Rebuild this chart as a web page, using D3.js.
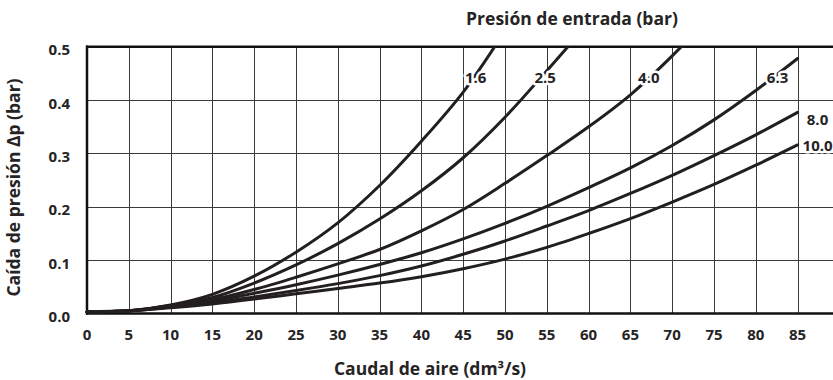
<!DOCTYPE html>
<html>
<head>
<meta charset="utf-8">
<script src="https://cdn.jsdelivr.net/npm/d3@7"></script>
<style>
  body { margin: 0; background: #fff; }
  svg { display: block; }
  text { font-family: "Open Sans", "Noto Sans", sans-serif; font-weight: 700; fill: #262324; }
</style>
</head>
<body>
<svg id="chart" width="833" height="380"></svg>
<script>
// Air flow (dm³/s) at which the pressure drop is read
const flows = [0, 5, 10, 15, 20, 25, 30, 35, 40, 45, 50, 55, 60, 65, 70, 75, 80, 85];

// Inlet pressure of each curve (bar)
const inletPressures = ["1.6", "2.5", "4.0", "6.3", "8.0", "10.0"];

// Pressure drop Δp (bar) for each inlet pressure, one value per flow step
const drop16  = [0.003, 0.005, 0.016, 0.036, 0.070, 0.115, 0.170, 0.240, 0.323, 0.415, 0.530];
const drop25  = [0.003, 0.005, 0.015, 0.030, 0.057, 0.091, 0.131, 0.177, 0.230, 0.292, 0.368, 0.455, 0.545];
const drop40  = [0.003, 0.005, 0.014, 0.026, 0.045, 0.068, 0.093, 0.120, 0.155, 0.195, 0.244, 0.296, 0.350, 0.410, 0.483, 0.565];
const drop63  = [0.003, 0.005, 0.013, 0.023, 0.038, 0.054, 0.072, 0.092, 0.114, 0.140, 0.169, 0.201, 0.236, 0.273, 0.315, 0.363, 0.418, 0.478];
const drop80  = [0.003, 0.005, 0.012, 0.020, 0.031, 0.043, 0.056, 0.071, 0.089, 0.111, 0.136, 0.164, 0.193, 0.225, 0.259, 0.296, 0.335, 0.377];
const drop100 = [0.003, 0.005, 0.011, 0.018, 0.027, 0.037, 0.047, 0.057, 0.069, 0.084, 0.102, 0.124, 0.150, 0.178, 0.209, 0.242, 0.278, 0.316];

const xTicks = [0, 5, 10, 15, 20, 25, 30, 35, 40, 45, 50, 55, 60, 65, 70, 75, 80, 85];
const yTicks = [0, 0.1, 0.2, 0.3, 0.4, 0.5];

const series = [drop16, drop25, drop40, drop63, drop80, drop100].map((vals, i) => ({
  name: inletPressures[i],
  points: vals.map((v, j) => ({ q: flows[j], v }))
}));

const W = 833, H = 380;
const plotLeft = 87, plotTop = 46.8, plotBottom = 313.5;
const svg = d3.select("#chart");

const x = d3.scaleLinear().domain([0, 90]).range([plotLeft, plotLeft + 90 * 8.36]);
const y = d3.scaleLinear().domain([0, 0.5]).range([plotBottom, plotTop]);

// grid
const grid = svg.append("g").attr("stroke", "#3a3a3a").attr("stroke-width", 1);
grid.selectAll("line.v").data(xTicks.filter(d => d > 0)).join("line")
  .attr("x1", d => Math.round(x(d)) + 0.5).attr("x2", d => Math.round(x(d)) + 0.5)
  .attr("y1", y(0.5)).attr("y2", y(0));
grid.selectAll("line.h").data(yTicks.filter(d => d > 0 && d < 0.5)).join("line")
  .attr("x1", plotLeft).attr("x2", W)
  .attr("y1", d => Math.round(y(d)) + 0.5).attr("y2", d => Math.round(y(d)) + 0.5);

// frame: left, top and bottom edges
const frame = svg.append("g").attr("stroke", "#111").attr("stroke-width", 2.5);
frame.append("line").attr("x1", plotLeft - 1).attr("x2", W).attr("y1", y(0.5)).attr("y2", y(0.5));
frame.append("line").attr("x1", plotLeft - 1).attr("x2", W).attr("y1", y(0)).attr("y2", y(0));
frame.append("line").attr("x1", plotLeft).attr("x2", plotLeft).attr("y1", y(0.5) - 1.2).attr("y2", y(0) + 1.2);

// curves, clipped to the plotting area
svg.append("clipPath").attr("id", "plot-clip").append("rect")
  .attr("x", plotLeft - 4).attr("y", y(0.5)).attr("width", W - plotLeft + 4).attr("height", y(0) - y(0.5) + 4);

const line = d3.line().x(d => x(d.q)).y(d => y(d.v)).curve(d3.curveCatmullRom.alpha(0.5));
svg.append("g").attr("clip-path", "url(#plot-clip)")
  .selectAll("path").data(series).join("path")
  .attr("d", d => line(d.points))
  .attr("fill", "none").attr("stroke", "#231f20").attr("stroke-width", 3)
  .attr("stroke-linecap", "round").attr("stroke-linejoin", "round");

// curve labels (white halo interrupts the curve underneath)
const labelSpots = {
  "1.6":  { q: 46.5, v: 0.443, anchor: "middle" },
  "2.5":  { q: 54.8, v: 0.443, anchor: "middle" },
  "4.0":  { q: 67.2, v: 0.443, anchor: "middle" },
  "6.3":  { q: 82.6, v: 0.443, anchor: "middle" },
  "8.0":  { q: 86.1, v: 0.364, anchor: "start" },
  "10.0": { q: 85.6, v: 0.314, anchor: "start" }
};
svg.append("g").selectAll("text").data(series).join("text")
  .attr("x", d => x(labelSpots[d.name].q))
  .attr("y", d => y(labelSpots[d.name].v))
  .attr("dy", "0.36em")
  .attr("text-anchor", d => labelSpots[d.name].anchor)
  .attr("font-size", 15)
  .attr("stroke", "#fff").attr("stroke-width", 5).attr("paint-order", "stroke")
  .attr("stroke-linejoin", "round")
  .text(d => d.name);

// tick labels
svg.append("g").selectAll("text").data(xTicks).join("text")
  .attr("x", d => x(d)).attr("y", 339.5)
  .attr("text-anchor", "middle").attr("font-size", 15)
  .text(d => d);
svg.append("g").selectAll("text").data(yTicks).join("text")
  .attr("x", 70).attr("y", d => y(d) + 8.5)
  .attr("text-anchor", "end").attr("font-size", 15)
  .text(d => d.toFixed(1));

// titles
svg.append("text").attr("x", 572).attr("y", 25).attr("text-anchor", "middle")
  .attr("font-size", 17.5).text("Presión de entrada (bar)");
svg.append("text").attr("x", 430).attr("y", 375).attr("text-anchor", "middle")
  .attr("font-size", 17.5).text("Caudal de aire (dm³/s)");
svg.append("text").attr("transform", "translate(20,187.5) rotate(-90)")
  .attr("text-anchor", "middle").attr("font-size", 17.5)
  .text("Caída de presión Δp (bar)");
</script>
</body>
</html>
